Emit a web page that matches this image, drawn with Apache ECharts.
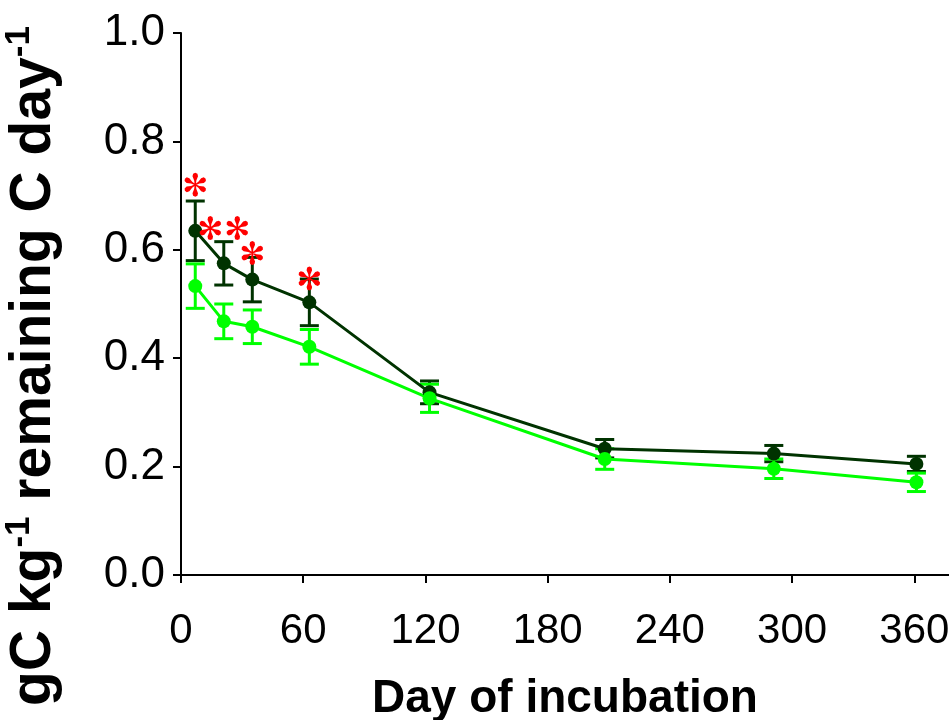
<!DOCTYPE html>
<html><head><meta charset="utf-8">
<script src="https://cdn.jsdelivr.net/npm/echarts@6/dist/echarts.min.js"></script>
<style>html,body{margin:0;padding:0;background:#fff}#c{width:949px;height:720px}</style>
</head><body><div id="c"></div>
<script>
// ---- data ----
const days = [7, 21, 35, 63, 122, 208, 291, 361];
const darkMean = [0.635, 0.575, 0.545, 0.503, 0.337, 0.233, 0.224, 0.205];
const darkErr = [0.055, 0.040, 0.041, 0.043, 0.021, 0.017, 0.015, 0.014];
const lightMean = [0.533, 0.468, 0.458, 0.421, 0.326, 0.214, 0.196, 0.171];
const lightErr = [0.041, 0.032, 0.031, 0.032, 0.026, 0.019, 0.018, 0.017];
const starDays = [7, 21, 35, 63];
const starLevels = [0.72, 0.64, 0.594, 0.547];
const starCounts = [1, 2, 1, 1];
const xTicks = [0, 60, 120, 180, 240, 300, 360];

// ---- styling ----
const FONT = 'Liberation Sans, Arial, sans-serif';
const DARK = '#003300';
const LIGHT = '#00ff00';

function asteriskPath() {
  const parts = [];
  for (let k = 0; k < 6; k++) {
    const a = (30 + 60 * k) * Math.PI / 180;
    const d = [Math.cos(a), -Math.sin(a)];
    const n = [-d[1], d[0]];
    const P = (t, w) => [(10 + t * d[0] + w * n[0]).toFixed(2), (10 + t * d[1] + w * n[1]).toFixed(2)];
    const pts = [P(0, 0.5), P(3.5, 0.9), P(7, 2.3), P(9.2, 1.8), P(10, 0), P(9.2, -1.8), P(7, -2.3), P(3.5, -0.9), P(0, -0.5)];
    parts.push('M' + pts.map(p => p.join(',')).join('L') + 'Z');
  }
  return parts.join('');
}
const STAR = asteriskPath();

function errorSeries(means, errs, color) {
  return {
    type: 'custom',
    data: days.map((d, i) => [d, means[i], errs[i]]),
    renderItem: function (params, api) {
      const x = api.value(0), y = api.value(1), e = api.value(2);
      const top = api.coord([x, y + e]);
      const bot = api.coord([x, y - e]);
      const hw = 9.5;
      const st = { stroke: color, lineWidth: 3 };
      return {
        type: 'group',
        children: [
          { type: 'line', shape: { x1: top[0], y1: top[1], x2: bot[0], y2: bot[1] }, style: st },
          { type: 'line', shape: { x1: top[0] - hw, y1: top[1], x2: top[0] + hw, y2: top[1] }, style: st },
          { type: 'line', shape: { x1: bot[0] - hw, y1: bot[1], x2: bot[0] + hw, y2: bot[1] }, style: st }
        ]
      };
    },
    silent: true
  };
}

function lineSeries(means, color) {
  return {
    type: 'line',
    data: days.map((d, i) => [d, means[i]]),
    symbol: 'circle',
    symbolSize: 14,
    itemStyle: { color: color },
    lineStyle: { color: color, width: 3 },
    silent: true
  };
}

const chart = echarts.init(document.getElementById('c'), null, { renderer: 'canvas' });
chart.setOption({
  animation: false,
  backgroundColor: '#fff',
  grid: { left: 181, right: 0, top: 33, bottom: 145, containLabel: false, outerBoundsMode: 'none' },
  xAxis: {
    type: 'value', min: 0, max: 377, interval: 60,
    name: 'Day of incubation', nameLocation: 'middle', nameGap: 101,
    nameTextStyle: { fontFamily: FONT, fontSize: 46, fontWeight: 'bold', color: '#000' },
    axisLine: { show: true, onZero: false, lineStyle: { color: '#000', width: 2 } },
    axisTick: { show: true, length: 8, inside: false, customValues: xTicks, lineStyle: { color: '#000', width: 2 } },
    axisLabel: { customValues: xTicks, margin: 35, fontFamily: FONT, fontSize: 42, color: '#000' },
    splitLine: { show: false }
  },
  yAxis: {
    type: 'value', min: 0, max: 1, interval: 0.2,
    name: '{m|gC kg}{s|-1}{m| remaining C day}{s|-1}',
    nameLocation: 'middle', nameRotate: 90, nameGap: 115,
    nameTextStyle: {
      color: '#000',
      padding: [0, 124, 0, 0],
      rich: {
        m: { fontFamily: FONT, fontSize: 57, fontWeight: 'bold', color: '#000', lineHeight: 64 },
        s: { fontFamily: FONT, fontSize: 35, fontWeight: 'bold', color: '#000', verticalAlign: 'top', lineHeight: 64 }
      }
    },
    axisLine: { show: true, onZero: false, lineStyle: { color: '#000', width: 2 } },
    axisTick: { show: true, length: 8, inside: false, lineStyle: { color: '#000', width: 2 } },
    axisLabel: { margin: 16, fontFamily: FONT, fontSize: 44, color: '#000', formatter: v => v.toFixed(1) },
    splitLine: { show: false }
  },
  series: [
    errorSeries(darkMean, darkErr, DARK),
    lineSeries(darkMean, DARK),
    errorSeries(lightMean, lightErr, LIGHT),
    lineSeries(lightMean, LIGHT),
    {
      type: 'custom',
      data: starDays.map((d, i) => [d, starLevels[i], starCounts[i]]),
      z: 10,
      renderItem: function (params, api) {
        const p = api.coord([api.value(0), api.value(1)]);
        const n = api.value(2);
        const kids = [];
        for (let i = 0; i < n; i++) {
          const cx = p[0] + (i - (n - 1) / 2) * 27;
          kids.push({
            type: 'path',
            shape: { pathData: STAR, layout: 'center', x: cx - 12, y: p[1] - 12, width: 24, height: 24 },
            style: { fill: '#ff0000' }
          });
        }
        return { type: 'group', children: kids };
      },
      silent: true
    }
  ]
});
</script>
</body></html>
